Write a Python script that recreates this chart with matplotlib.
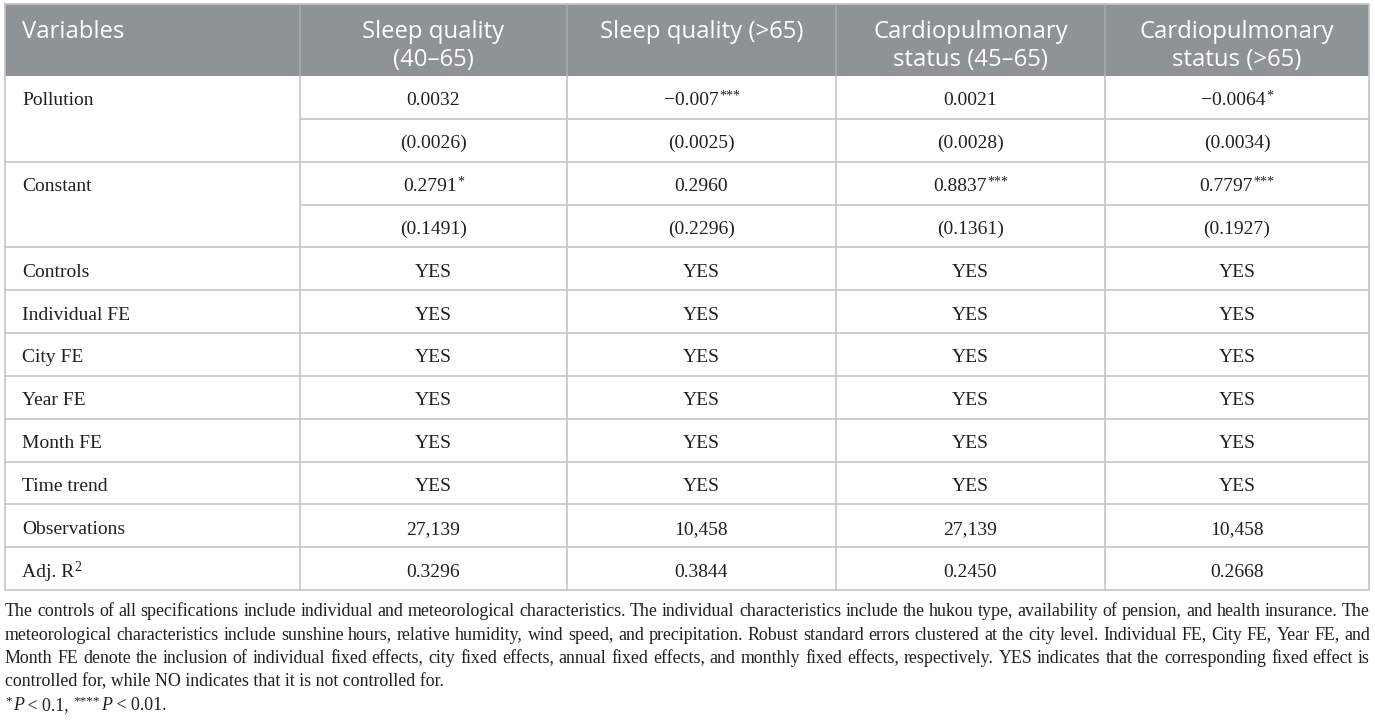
import matplotlib
matplotlib.use("Agg")
import matplotlib.pyplot as plt
from matplotlib.patches import Rectangle

# ---------------- data ----------------
header_variables = "Variables"
column_headers = [
    ["Sleep quality", "(40\u201365)"],
    ["Sleep quality (>65)"],
    ["Cardiopulmonary", "status (45\u201365)"],
    ["Cardiopulmonary", "status (>65)"],
]
pollution_coef = ["0.0032", "\u22120.007***", "0.0021", "\u22120.0064*"]
pollution_se = ["(0.0026)", "(0.0025)", "(0.0028)", "(0.0034)"]
constant_coef = ["0.2791*", "0.2960", "0.8837***", "0.7797***"]
constant_se = ["(0.1491)", "(0.2296)", "(0.1361)", "(0.1927)"]
fe_rows = ["Controls", "Individual FE", "City FE", "Year FE", "Month FE", "Time trend"]
fe_values = ["YES", "YES", "YES", "YES"]
observations = ["27,139", "10,458", "27,139", "10,458"]
adj_r2 = ["0.3296", "0.3844", "0.2450", "0.2668"]

footnote_lines = [
    "The controls of all specifications include individual and meteorological characteristics. The individual characteristics include the hukou type, availability of pension, and health insurance. The",
    "meteorological characteristics include sunshine hours, relative humidity, wind speed, and precipitation. Robust standard errors clustered at the city level. Individual FE, City FE, Year FE, and",
    "Month FE denote the inclusion of individual fixed effects, city fixed effects, annual fixed effects, and monthly fixed effects, respectively. YES indicates that the corresponding fixed effect is",
    "controlled for, while NO indicates that it is not controlled for.",
]
footnote_sig = [("*", "sup"), ("P", "it"), (" < 0.1, ", "rm"), ("****", "sup"), ("P", "it"), (" < 0.01.", "rm")]

# ---------------- layout ----------------
W, H = 1375, 720
fig = plt.figure(figsize=(W / 100, H / 100), dpi=100)
ax = fig.add_axes([0, 0, 1, 1])
ax.set_xlim(0, W)
ax.set_ylim(H, 0)
ax.axis("off")
renderer = fig.canvas.get_renderer()

col_x = [5, 300, 567, 836, 1105, 1369]
head_top, head_bot = 4, 76
tab_bot = 590
n_rows = 12
rh = (tab_bot - head_bot) / n_rows
row_y = [head_bot + i * rh for i in range(n_rows + 1)]

HEAD_BG = "#8e9396"
HEAD_DIV = "#a7abac"
LINE = "#c3c6c6"
TXT = "#231f20"
SERIF = "Liberation Serif"
SANS = "Open Sans"
BODY_FS = 14
HEAD_FS = 17.2
lw = 1.2

ax.add_patch(Rectangle((col_x[0], head_top), col_x[-1] - col_x[0], head_bot - head_top,
                       facecolor=HEAD_BG, edgecolor="none", zorder=1))
for x in col_x[1:-1]:
    ax.plot([x, x], [head_top, head_bot], color=HEAD_DIV, lw=lw, zorder=2)
ax.plot([col_x[0], col_x[-1], col_x[-1], col_x[0], col_x[0]],
        [head_top, head_top, tab_bot, tab_bot, head_top], color=LINE, lw=lw, zorder=3)
for x in col_x[1:-1]:
    ax.plot([x, x], [head_bot, tab_bot], color=LINE, lw=lw, zorder=2)
span_lines = {1, 3}
for i in range(1, n_rows):
    x0 = col_x[1] if i in span_lines else col_x[0]
    ax.plot([x0, col_x[-1]], [row_y[i], row_y[i]], color=LINE, lw=lw, zorder=2)

# header text
ax.text(22, 38, header_variables, color="white", fontsize=HEAD_FS, family=SANS,
        ha="left", va="baseline", zorder=4)
for j, lines in enumerate(column_headers):
    cx = (col_x[j + 1] + col_x[j + 2]) / 2
    for k, ln in enumerate(lines):
        ax.text(cx, 38 + 28 * k, ln, color="white", fontsize=HEAD_FS, family=SANS,
                ha="center", va="baseline", zorder=4)


def width_of(s, fs, style="normal"):
    t = ax.text(0, 0, s, fontsize=fs, family=SERIF, style=style)
    w = t.get_window_extent(renderer).width
    t.remove()
    return w


def draw_value(cx, yb, s):
    base = s.rstrip("*")
    stars = s[len(base):]
    w1 = width_of(base, BODY_FS)
    w2 = width_of(stars, 10) if stars else 0
    x0 = cx - (w1 + w2) / 2
    ax.text(x0, yb, base, fontsize=BODY_FS, family=SERIF, color=TXT, ha="left", va="baseline")
    if stars:
        ax.text(x0 + w1 + 0.5, yb - 6, stars, fontsize=10, family=SERIF, color=TXT,
                ha="left", va="baseline")


def row_base(i):
    return (row_y[i] + row_y[i + 1]) / 2 + 8


labels = ["Pollution", None, "Constant", None] + fe_rows + ["Observations", None]
values = [pollution_coef, pollution_se, constant_coef, constant_se] + [fe_values] * len(fe_rows) + [observations, adj_r2]
for i, (lab, vals) in enumerate(zip(labels, values)):
    yb = row_base(i)
    if lab:
        ax.text(22, yb, lab, fontsize=BODY_FS, family=SERIF, color=TXT, ha="left", va="baseline")
    for j, v in enumerate(vals):
        cx = (col_x[j + 1] + col_x[j + 2]) / 2
        draw_value(cx, yb, v)
yb = row_base(11)
ax.text(22, yb, "Adj. R", fontsize=BODY_FS, family=SERIF, color=TXT, ha="left", va="baseline")
wl = width_of("Adj. R", BODY_FS)
ax.text(22 + wl + 0.5, yb - 6, "2", fontsize=10, family=SERIF, color=TXT, ha="left", va="baseline")

# footnotes (justified)
FN_FS = 12.9
fx0, fx1 = 5, 1370
fy0, fdy = 616, 23.5
for k, line in enumerate(footnote_lines):
    yb = fy0 + k * fdy
    words = line.split(" ")
    if k < 3:
        ws = [width_of(w, FN_FS) for w in words]
        gap = (fx1 - fx0 - sum(ws)) / (len(words) - 1)
        x = fx0
        for w, wd in zip(words, ws):
            ax.text(x, yb, w, fontsize=FN_FS, family=SERIF, color=TXT, ha="left", va="baseline")
            x += wd + gap
    else:
        ax.text(fx0, yb, line, fontsize=FN_FS, family=SERIF, color=TXT, ha="left", va="baseline")

yb = fy0 + 4 * fdy
x = fx0
for seg, kind in footnote_sig:
    if kind == "sup":
        ax.text(x, yb - 6, seg, fontsize=9.5, family=SERIF, color=TXT, ha="left", va="baseline")
        x += width_of(seg, 9.5) + 1
    else:
        st = "italic" if kind == "it" else "normal"
        ax.text(x, yb, seg, fontsize=FN_FS, family=SERIF, style=st, color=TXT, ha="left", va="baseline")
        x += width_of(seg, FN_FS, st)

fig.savefig("out.png", dpi=100)
